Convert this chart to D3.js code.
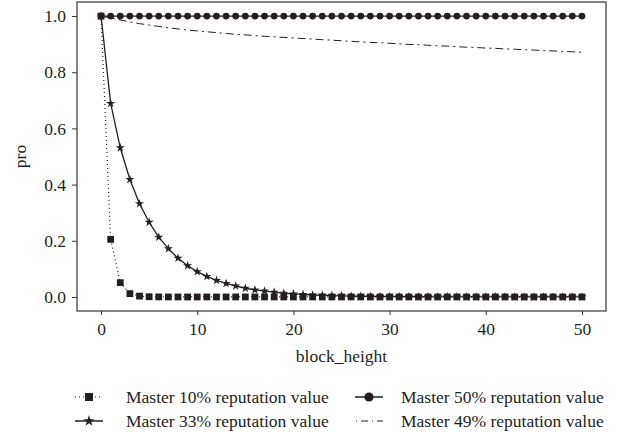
<!DOCTYPE html>
<html>
<head>
<meta charset="utf-8">
<script src="https://cdn.jsdelivr.net/npm/d3@7"></script>
<style>
  html, body { margin: 0; padding: 0; background: #fff; }
  svg { display: block; }
  svg text { font-family: "Liberation Serif", serif; fill: #231f20; }
</style>
</head>
<body>
<svg id="chart" width="624" height="436"></svg>
<script>
// ---- data ----
const blockHeights = d3.range(0, 51);
const master10 = [1.0, 0.205, 0.051, 0.012, 0.003, 0.0008, 0.0002, 0.00005, 0.00001, 0,
  0, 0, 0, 0, 0, 0, 0, 0, 0, 0,
  0, 0, 0, 0, 0, 0, 0, 0, 0, 0,
  0, 0, 0, 0, 0, 0, 0, 0, 0, 0,
  0, 0, 0, 0, 0, 0, 0, 0, 0, 0, 0];
const master33 = [1.0, 0.689, 0.531, 0.418, 0.332, 0.266, 0.213, 0.172, 0.138, 0.111,
  0.090, 0.073, 0.059, 0.048, 0.039, 0.031, 0.025, 0.021, 0.017, 0.013,
  0.011, 0.009, 0.007, 0.006, 0.005, 0.004, 0.003, 0.0025, 0.002, 0.0016,
  0.0013, 0.001, 0.0008, 0.0007, 0.0005, 0.0004, 0.0003, 0.0003, 0.0002, 0.0002,
  0.0001, 0.0001, 0.0001, 0, 0, 0, 0, 0, 0, 0, 0];
const master50 = [1, 1, 1, 1, 1, 1, 1, 1, 1, 1,
  1, 1, 1, 1, 1, 1, 1, 1, 1, 1,
  1, 1, 1, 1, 1, 1, 1, 1, 1, 1,
  1, 1, 1, 1, 1, 1, 1, 1, 1, 1,
  1, 1, 1, 1, 1, 1, 1, 1, 1, 1, 1];
const master49 = [1.0, 0.993, 0.986, 0.979, 0.973, 0.968, 0.963, 0.958, 0.954, 0.950,
  0.947, 0.944, 0.941, 0.938, 0.935, 0.933, 0.930, 0.928, 0.926, 0.924,
  0.922, 0.920, 0.918, 0.916, 0.914, 0.912, 0.910, 0.908, 0.906, 0.905,
  0.903, 0.901, 0.899, 0.898, 0.896, 0.894, 0.893, 0.891, 0.889, 0.888,
  0.886, 0.885, 0.883, 0.882, 0.880, 0.879, 0.877, 0.876, 0.874, 0.873, 0.871];
const xTicks = [0, 10, 20, 30, 40, 50];
const yTicks = [0.0, 0.2, 0.4, 0.6, 0.8, 1.0];
const legendLabels = ["Master 10% reputation value", "Master 33% reputation value",
                      "Master 50% reputation value", "Master 49% reputation value"];

(function () {
const FONT = '"Liberation Serif", serif';
const FS = 17.5;
// ---- layout ----
const svg = d3.select("#chart");
const pL = 77, pR = 606, pT = 2, pB = 311;
const ink = "#231f20";

const x = d3.scaleLinear().domain([-2.5, 52.5]).range([pL, pR]);
const y = d3.scaleLinear().domain([-0.05, 1.05]).range([pB, pT]);

// frame
svg.append("rect").attr("x", pL).attr("y", pT)
  .attr("width", pR - pL).attr("height", pB - pT)
  .attr("fill", "none").attr("stroke", "#333").attr("stroke-width", 1.2);

// axes
const xAxis = svg.append("g").attr("transform", `translate(0,${pB})`)
  .call(d3.axisBottom(x).tickValues(xTicks).tickSize(4).tickPadding(8).tickFormat(d3.format("d")));
const yAxis = svg.append("g").attr("transform", `translate(${pL},0)`)
  .call(d3.axisLeft(y).tickValues(yTicks).tickSize(5).tickPadding(6).tickFormat(d3.format(".1f")));
[xAxis, yAxis].forEach(a => {
  a.attr("font-family", FONT);
  a.select(".domain").remove();
  a.selectAll(".tick line").attr("stroke", "#333").attr("stroke-width", 1);
  a.selectAll(".tick text").attr("font-family", FONT).attr("font-size", FS).attr("fill", ink);
});

// axis labels
svg.append("text").attr("x", (pL + pR) / 2).attr("y", 362)
  .attr("text-anchor", "middle").attr("font-family", FONT).attr("font-size", FS).text("block_height");
svg.append("text").attr("transform", `translate(26,${(pT + pB) / 2}) rotate(-90)`)
  .attr("text-anchor", "middle").attr("font-family", FONT).attr("font-size", FS).text("pro");

const line = arr => d3.line().x((d, i) => x(blockHeights[i])).y(d => y(d))(arr);
const plot = svg.append("g");

// 49% dash-dot
plot.append("path").attr("d", line(master49)).attr("fill", "none")
  .attr("stroke", ink).attr("stroke-width", 1).attr("stroke-dasharray", "8,4,2,4");
// 50% circles
plot.append("path").attr("d", line(master50)).attr("fill", "none")
  .attr("stroke", ink).attr("stroke-width", 1.3);
plot.append("g").selectAll("circle").data(master50).join("circle")
  .attr("cx", (d, i) => x(blockHeights[i])).attr("cy", d => y(d)).attr("r", 3.4).attr("fill", ink);
// 33% stars
plot.append("path").attr("d", line(master33)).attr("fill", "none")
  .attr("stroke", ink).attr("stroke-width", 1.3);
const star = d3.symbol().type(d3.symbolStar).size(26);
plot.append("g").selectAll("path").data(master33).join("path")
  .attr("d", star).attr("fill", ink)
  .attr("transform", (d, i) => `translate(${x(blockHeights[i])},${y(d)})`);
// 10% squares dotted
plot.append("path").attr("d", line(master10)).attr("fill", "none")
  .attr("stroke", ink).attr("stroke-width", 1.2).attr("stroke-dasharray", "1,3");
const sq = d3.symbol().type(d3.symbolSquare).size(46);
plot.append("g").selectAll("path").data(master10).join("path")
  .attr("d", sq).attr("fill", ink)
  .attr("transform", (d, i) => `translate(${x(blockHeights[i])},${y(d)})`);

// ---- legend ----
const leg = svg.append("g");
const items = [
  {label: legendLabels[0], hx: 75, tx: 126, cy: 397, kind: "square"},
  {label: legendLabels[1], hx: 75, tx: 126, cy: 421, kind: "star"},
  {label: legendLabels[2], hx: 355, tx: 401, cy: 397, kind: "circle"},
  {label: legendLabels[3], hx: 355, tx: 401, cy: 421, kind: "dashdot"}
];
items.forEach(it => {
  const g = leg.append("g");
  const x0 = it.hx, x1 = it.hx + 28, xm = (x0 + x1) / 2;
  const ln = g.append("line").attr("x1", x0).attr("x2", x1).attr("y1", it.cy).attr("y2", it.cy)
    .attr("stroke", ink);
  if (it.kind === "square") {
    ln.attr("stroke-width", 1.2).attr("stroke-dasharray", "1,3");
    g.append("path").attr("d", d3.symbol().type(d3.symbolSquare).size(64)())
      .attr("transform", `translate(${xm},${it.cy})`).attr("fill", ink);
  } else if (it.kind === "star") {
    ln.attr("stroke-width", 1.5);
    g.append("path").attr("d", d3.symbol().type(d3.symbolStar).size(40)())
      .attr("transform", `translate(${xm},${it.cy})`).attr("fill", ink);
  } else if (it.kind === "circle") {
    ln.attr("stroke-width", 1.5);
    g.append("circle").attr("cx", xm).attr("cy", it.cy).attr("r", 4.6).attr("fill", ink);
  } else {
    ln.attr("stroke-width", 1).attr("stroke-dasharray", "1,4,7,4").attr("stroke-dashoffset", -1);
  }
  g.append("text").attr("x", it.tx).attr("y", it.cy).attr("dy", "0.35em")
    .attr("font-family", FONT).attr("font-size", FS).text(it.label);
});
})();
</script>
</body>
</html>
